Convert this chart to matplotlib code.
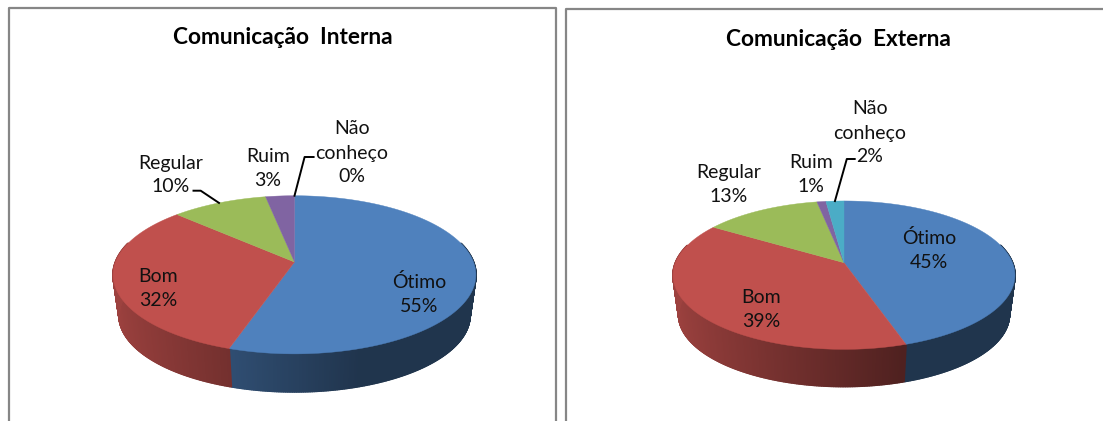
import numpy as np
import matplotlib
matplotlib.use('Agg')
import matplotlib.pyplot as plt
from matplotlib.collections import PolyCollection

plt.rcParams['font.family'] = ['Lato', 'DejaVu Sans']

categories = ['Ótimo', 'Bom', 'Regular', 'Ruim', 'Não\nconheço']
interna = [55, 32, 10, 3, 0]
externa = [45, 39, 13, 1, 2]
colors = ['#4f81bd', '#c0504d', '#9bbb59', '#8064a2', '#4bacc6']

fig = plt.figure(figsize=(11.03, 4.21), dpi=100)
ax = fig.add_axes([0, 0, 1, 1])
ax.set_xlim(0, 1103)
ax.set_ylim(421, 0)
ax.axis('off')


# rim point of the perspective pie, angle is clockwise from the top in degrees
def rim(g, ang, r=1.0, bottom=False):
    t = np.radians(ang)
    u, v = r * np.sin(t), r * np.cos(t)
    d = 1 + g['k'] * v
    if bottom:
        return (g['x0'] + g['s'] * g['b'] * u / d,
                g['y0'] + g['dy'] - g['s'] * g['a'] * v / d)
    return g['x0'] + g['b'] * u / d, g['y0'] - g['a'] * v / d


def shade(color, ang):
    u = np.sin(np.radians(ang))
    f = np.interp(u, [-1, 0.3, 1], [0.82, 0.41, 0.41])
    return tuple(c * f for c in matplotlib.colors.to_rgb(color))


def draw_pie(values, g):
    edges = np.cumsum([0] + values) * 3.6

    # side wall first, the top face covers what sticks out behind it
    for i in range(len(values)):
        polys, cols = [], []
        n = max(int((edges[i + 1] - edges[i]) / 0.5), 1)
        a = np.linspace(edges[i], edges[i + 1], n + 1)
        for a0, a1 in zip(a[:-1], a[1:]):
            if np.cos(np.radians((a0 + a1) / 2)) > 0.25:
                continue
            polys.append([rim(g, a0), rim(g, a1),
                          rim(g, a1, bottom=True), rim(g, a0, bottom=True)])
            cols.append(shade(colors[i], (a0 + a1) / 2))
        if polys:
            ax.add_collection(PolyCollection(polys, facecolors=cols, edgecolors=cols, linewidths=1.3))

    for i in range(len(values)):
        if values[i] == 0:
            continue
        a = np.linspace(edges[i], edges[i + 1], 200)
        x, y = rim(g, a)
        ax.fill(np.r_[g['x0'], x], np.r_[g['y0'], y], color=colors[i], lw=0.3, zorder=3)
    return edges


def leader(g, ang, knee, start):
    x, y = rim(g, ang)
    ax.plot([start[0], knee[0], x], [start[1], knee[1], y], color='black', lw=1.4, zorder=4,
            solid_joinstyle='round')


def labels(values, spots):
    for cat, val, (x, y) in zip(categories, values, spots):
        ax.text(x, y, f'{cat}\n{val}%', ha='center', va='center', fontsize=14,
                linespacing=1.5, color='#111111', zorder=5)


left = {'x0': 294.5, 'y0': 262, 'a': 77, 'b': 179, 'k': 0.162, 's': 0.967, 'dy': 41}
right = {'x0': 844, 'y0': 262.7, 'a': 72.1, 'b': 168.5, 'k': 0.168, 's': 0.967, 'dy': 40}

# panel frames, cut by the edges of the picture
ax.plot([9, 9, 556, 556], [421, 7.5, 7.5, 421], color='#868686', lw=1.6)
ax.plot([566, 566, 1103], [421, 9, 9], color='#868686', lw=1.6)

edges = draw_pie(interna, left)
leader(left, (edges[2] + edges[3]) / 2, (200.7, 190.7), (193.5, 190.7))
leader(left, edges[4], (304.6, 157), (313.6, 157))
labels(interna, [(419, 294.5), (158, 288.5), (170.6, 175), (268, 169), (352, 153)])
ax.text(282.5, 38, 'Comunicação  Interna', ha='center', va='center', fontsize=16.3, fontweight='bold')

edges = draw_pie(externa, right)
leader(right, (edges[4] + edges[5]) / 2, (846.8, 159), (854.7, 159))
labels(externa, [(929, 249.5), (761, 309.5), (728.6, 184.5), (811, 174.5), (870, 133)])
ax.text(838, 40, 'Comunicação  Externa', ha='center', va='center', fontsize=16.3, fontweight='bold')

fig.savefig('out.png', dpi=100)
